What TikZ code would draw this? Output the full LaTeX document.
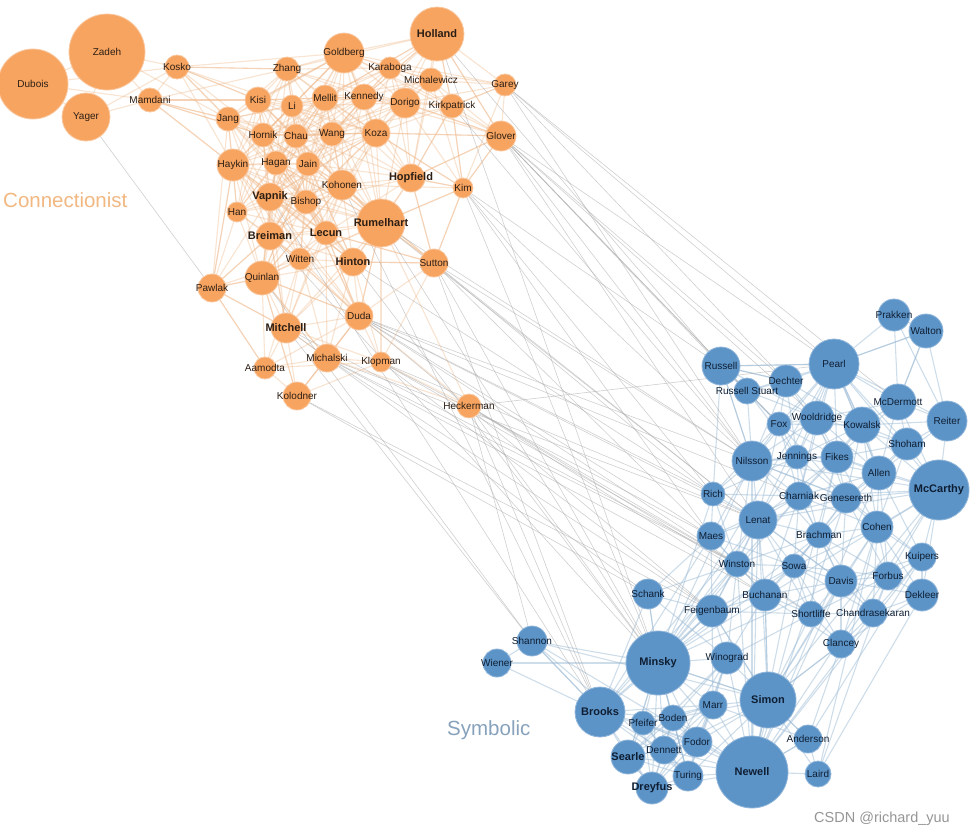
\documentclass[tikz,border=0pt]{standalone}
\usepackage{fontspec}
\setmainfont{Liberation Sans}
\usetikzlibrary{backgrounds}
\definecolor{ofill}{RGB}{246,164,96}
\definecolor{oline}{RGB}{250,200,160}
\definecolor{bfill}{RGB}{92,148,200}
\definecolor{bline}{RGB}{145,182,218}
\definecolor{oedge}{RGB}{240,186,140}
\definecolor{bedge}{RGB}{158,188,214}
\definecolor{xedge}{RGB}{170,170,170}
\definecolor{otext}{RGB}{45,30,20}
\definecolor{btext}{RGB}{15,30,50}
\definecolor{ctext}{RGB}{242,184,130}
\definecolor{stext}{RGB}{135,162,188}
\definecolor{wtext}{RGB}{150,150,150}
\newcommand\bname[1]{{\fontsize{11}{13}\selectfont\bfseries #1}}
\def\olist{Zadeh/107/52/38/Zadeh, Dubois/33/84/35/Dubois, Yager/86/117/24/Yager,
Kosko/177/67/12/Kosko, Mamdani/150/100/12/Mamdani, Zhang/287/69/12/Zhang,
Goldberg/344/53/20/Goldberg, Karaboga/390/68/11/Karaboga, Holland/437/34/27/\bname{Holland},
Michalewicz/431/80/12/Michalewicz, Garey/505/85/11/Garey, Dorigo/405/103/15/Dorigo,
Kirkpatrick/452/106/12/Kirkpatrick, Glover/501/136/15/Glover, Kisi/258/100/13/Kisi,
Li/292/106/11/Li, Mellit/325/98/13/Mellit, Kennedy/364/97/13/Kennedy,
Jang/228/119/12/Jang, Hornik/263/135/12/Hornik, Chau/296/136/12/Chau,
Wang/332/134/12/Wang, Koza/376/133/14/Koza, Haykin/233/165/16/Haykin,
Hagan/276/163/12/Hagan, Jain/308/164/12/Jain, Kohonen/342/185/15/Kohonen,
Hopfield/411/178/14/\bname{Hopfield}, Kim/463/188/10/Kim, Vapnik/270/197/14/\bname{Vapnik},
Bishop/306/202/12/Bishop, Han/237/212/10/Han, Rumelhart/381/223/24/\bname{Rumelhart},
Breiman/270/236/14/\bname{Breiman}, Lecun/326/233/12/\bname{Lecun}, Witten/300/259/11/Witten,
Hinton/353/262/14/\bname{Hinton}, Sutton/434/263/14/Sutton, Quinlan/262/278/17/Quinlan,
Pawlak/212/288/14/Pawlak, Duda/359/316/14/Duda, Mitchell/286/328/15/\bname{Mitchell},
Aamodta/265/368/11/Aamodta, Michalski/327/358/14/Michalski, Klopman/381/362/10/Klopman,
Kolodner/297/396/14/Kolodner, Heckerman/469/406/12/Heckerman}
\def\blist{Prakken/894/315/16/Prakken, Walton/926/331/17/Walton, Pearl/834/364/25/Pearl,
Russell/721/366/19/Russell, RussellStuart/747/391/13/Russell Stuart, Dechter/786/381/16/Dechter,
McDermott/898/402/18/McDermott, Reiter/947/421/20/Reiter, Fox/779/424/12/Fox,
Wooldridge/817/418/17/Wooldridge, Kowalsk/862/425/18/Kowalsk, Shoham/907/444/16/Shoham,
Nilsson/752/461/20/Nilsson, Jennings/797/457/12/Jennings, Fikes/837/457/16/Fikes,
Allen/879/473/17/Allen, McCarthy/939/490/30/\bname{McCarthy}, Rich/713/494/12/Rich,
Charniak/799/496/14/Charniak, Genesereth/846/498/15/Genesereth, Lenat/758/520/19/Lenat,
Cohen/877/527/16/Cohen, Maes/711/536/14/Maes, Brachman/819/535/13/Brachman,
Kuipers/922/557/14/Kuipers, Winston/737/564/13/Winston, Sowa/794/566/12/Sowa,
Davis/841/581/16/Davis, Forbus/888/576/14/Forbus, Dekleer/922/595/16/Dekleer,
Buchanan/765/595/16/Buchanan, Feigenbaum/712/611/16/Feigenbaum, Shortliffe/811/614/13/Shortliffe,
Chandrasekaran/873/613/14/Chandrasekaran, Schank/648/594/15/Schank, Clancey/841/644/14/Clancey,
Minsky/658/663/32/\bname{Minsky}, Winograd/727/658/16/Winograd, Shannon/532/641/15/Shannon,
Wiener/497/663/14/Wiener, Simon/768/700/28/\bname{Simon}, Brooks/600/712/25/\bname{Brooks},
Marr/713/705/14/Marr, Pfeifer/643/723/12/Pfeifer, Boden/673/718/13/Boden,
Fodor/697/742/15/Fodor, Dennett/664/750/14/Dennett, Anderson/808/739/14/Anderson,
Searle/628/757/17/\bname{Searle}, Turing/688/776/15/Turing, Newell/752/772/36/\bname{Newell},
Laird/818/774/13/Laird, Dreyfus/652/788/16/\bname{Dreyfus}}
\begin{document}
\begin{tikzpicture}[x=1pt,y=-1pt,
  onode/.style={circle, fill=ofill, draw=oline, line width=0.8pt, inner sep=0pt, outer sep=0pt},
  bnode/.style={circle, fill=bfill, draw=bline, line width=0.8pt, inner sep=0pt, outer sep=0pt},
  olbl/.style={inner sep=0pt, text=otext, font=\fontsize{10}{12}\selectfont},
  blbl/.style={inner sep=0pt, text=btext, font=\fontsize{10}{12}\selectfont},
  oline/.style={draw=oedge, line width=1.1pt, opacity=0.4},
  bline/.style={draw=bedge, line width=1.1pt, opacity=0.5},
  xline/.style={draw=xedge, line width=0.6pt, opacity=0.55}]
\useasboundingbox (0,0) rectangle (973,835);
% circles
\foreach \n/\x/\y/\r/\t in \olist {\node[onode, minimum size=\r*2pt] (\n) at (\x,\y) {};}
\foreach \n/\x/\y/\r/\t in \blist {\node[bnode, minimum size=\r*2pt] (\n) at (\x,\y) {};}
% edges
\begin{scope}[on background layer]
\fill[white] (0,0) rectangle (973,835);
\foreach \a/\ax/\ay/\ar/\at [count=\i] in \olist {
  \foreach \b/\bx/\by/\br/\bt [count=\j] in \olist {
    \ifnum\j>\i
      \pgfmathsetmacro\dx{(\ax-\bx)/100}
      \pgfmathsetmacro\dy{(\ay-\by)/100}
      \pgfmathtruncatemacro\ok{(\dx*\dx+\dy*\dy) < ((100+\ar+\br)/100)*((100+\ar+\br)/100) ? 1 : 0}
      \ifnum\ok=1 \draw[oline] (\a) -- (\b); \fi
    \fi
  }
}
\foreach \a/\ax/\ay/\ar/\at [count=\i] in \blist {
  \foreach \b/\bx/\by/\br/\bt [count=\j] in \blist {
    \ifnum\j>\i
      \pgfmathsetmacro\dx{(\ax-\bx)/100}
      \pgfmathsetmacro\dy{(\ay-\by)/100}
      \pgfmathtruncatemacro\ok{(\dx*\dx+\dy*\dy) < ((76+\ar+\br)/100)*((76+\ar+\br)/100) ? 1 : 0}
      \ifnum\ok=1 \draw[bline] (\a) -- (\b); \fi
    \fi
  }
}
\foreach \a/\b in {Kosko/Zhang, Kosko/Goldberg, Kosko/Kisi, Kosko/Jang, Mamdani/Jang, Mamdani/Kisi,
  Mamdani/Haykin, Mamdani/Hornik, Mamdani/Zhang, Holland/Glover, Holland/Kirkpatrick,
  Goldberg/Garey, Goldberg/Glover, Holland/Hopfield, Goldberg/Koza, Glover/Koza, Glover/Dorigo,
  Glover/Kennedy, Kim/Hopfield, Kim/Koza, Kim/Kirkpatrick, Kim/Rumelhart, Kim/Sutton, Kim/Glover,
  Sutton/Rumelhart, Sutton/Hinton, Sutton/Kohonen, Sutton/Lecun, Sutton/Hopfield, Pawlak/Quinlan,
  Pawlak/Jang, Pawlak/Haykin, Pawlak/Breiman, Pawlak/Aamodta, Pawlak/Mitchell, Duda/Rumelhart,
  Duda/Breiman, Duda/Bishop, Duda/Vapnik, Duda/Quinlan, Mitchell/Breiman, Mitchell/Vapnik,
  Klopman/Rumelhart, Michalski/Quinlan, Kolodner/Quinlan, Heckerman/Duda, Heckerman/Michalski,
  Heckerman/Rumelhart, Holland/Zhang, Goldberg/Kisi, Holland/Kennedy, Garey/Kirkpatrick,
  Glover/Hopfield, Rumelhart/Jain, Rumelhart/Hagan, Hinton/Vapnik, Lecun/Haykin, Kirkpatrick/Hopfield,
  Rumelhart/Haykin, Rumelhart/Goldberg, Hinton/Haykin, Lecun/Jang, Vapnik/Koza, Breiman/Koza,
  Quinlan/Kohonen, Mitchell/Kohonen, Mitchell/Rumelhart, Duda/Lecun, Duda/Haykin, Kolodner/Duda,
  Holland/Wang, Holland/Mellit, Goldberg/Jang, Goldberg/Hornik, Rumelhart/Kisi, Rumelhart/Li,
  Hinton/Hornik, Hinton/Chau, Breiman/Wang, Vapnik/Mellit, Quinlan/Jain, Quinlan/Hagan}
  {\draw[oline] (\a) -- (\b);}
\foreach \a/\b in {Walton/Pearl, Walton/McDermott, Shannon/Minsky, Shannon/Brooks, Shannon/Newell,
  Shannon/Simon, Shannon/Turing, Wiener/Minsky, Newell/McCarthy, Simon/McCarthy, Minsky/McCarthy,
  Newell/Nilsson, Minsky/Nilsson, Simon/Feigenbaum, Newell/Allen, Laird/Cohen, Laird/Dekleer,
  Anderson/Kuipers, Newell/Davis, Minsky/Winston, Minsky/Lenat, Simon/Lenat, Newell/Lenat,
  Brooks/Maes, Minsky/Pearl, Newell/Fikes, Simon/Clancey, Newell/Chandrasekaran, Minsky/Charniak,
  Brooks/Winston, Newell/Kuipers, Laird/Forbus, Simon/Davis, Dreyfus/Winograd, Searle/Winograd,
  Turing/Winograd, Newell/Winston, Simon/Buchanan, Russell/Nilsson, Russell/Pearl, Russell/Dechter,
  Russell/Rich, Pearl/McCarthy, Pearl/Reiter, Pearl/Nilsson, McCarthy/Nilsson, Minsky/Schank,
  Brooks/Schank, Minsky/Feigenbaum, Simon/Newell, Minsky/Simon, Newell/Anderson, Simon/Anderson,
  Minsky/Rich, Brooks/Feigenbaum, Dreyfus/Searle, Searle/Minsky, Dreyfus/Minsky, Turing/Minsky,
  Pearl/Allen, Pearl/Kowalsk, Nilsson/Fikes, Nilsson/Genesereth, Lenat/Davis, Cohen/Clancey,
  Minsky/Sowa, Minsky/Davis, Newell/Sowa, Simon/Cohen, Newell/Genesereth, Minsky/Brachman,
  Brooks/Lenat, McCarthy/Lenat, McCarthy/Charniak, Prakken/Reiter, Pearl/Lenat, Pearl/Charniak}
  {\draw[bline] (\a) -- (\b);}
\foreach \a/\b in {Glover/Russell, Glover/Dechter, Glover/Pearl, Glover/Nilsson, Glover/Fox,
  Glover/RussellStuart, Glover/Lenat, Glover/Wooldridge, Garey/Pearl, Garey/Dechter, Garey/McDermott,
  Garey/Nilsson, Holland/Russell, Holland/Minsky, Kirkpatrick/Nilsson, Kim/Russell, Kim/Rich,
  Kim/Nilsson, Kim/Maes, Kim/Minsky, Sutton/Rich, Sutton/Nilsson, Sutton/Maes, Sutton/Minsky,
  Sutton/Brooks, Sutton/Lenat, Rumelhart/Minsky, Rumelhart/Lenat, Rumelhart/Nilsson, Hinton/Minsky,
  Hinton/Rich, Duda/Lenat, Duda/Nilsson, Duda/Maes, Duda/Winston, Duda/Rich, Duda/Charniak,
  Duda/Feigenbaum, Klopman/Lenat, Klopman/Maes, Klopman/Feigenbaum, Klopman/Winston,
  Michalski/Winston, Michalski/Lenat, Michalski/Feigenbaum, Michalski/Buchanan, Mitchell/Winston,
  Mitchell/Shannon, Mitchell/Schank, Heckerman/Pearl, Heckerman/Buchanan, Heckerman/Shortliffe,
  Heckerman/Winston, Heckerman/Shannon, Heckerman/Brooks, Heckerman/Minsky, Kolodner/Schank,
  Kolodner/Feigenbaum, Quinlan/Shannon, Breiman/Minsky, Vapnik/Brooks, Kohonen/Brooks,
  Yager/Pawlak}
  {\draw[xline] (\a) -- (\b);}
\end{scope}
% labels
\foreach \n/\x/\y/\r/\t in \olist {\node[olbl] (\n-l) at (\n) {\t};}
\foreach \n/\x/\y/\r/\t in \blist {\node[blbl] (\n-l) at (\n) {\t};}
\node[anchor=base west, inner sep=0pt, text=ctext, font=\fontsize{20.5}{24}\selectfont] (conn) at (3,207) {Connectionist};
\node[anchor=base west, inner sep=0pt, text=stext, font=\fontsize{20.5}{24}\selectfont] (symb) at (447,735) {Symbolic};
\node[anchor=base west, inner sep=0pt, text=wtext, font=\fontsize{14.5}{17}\selectfont] (wm) at (814,822) {CSDN @richard\_yuu};
\end{tikzpicture}
\end{document}
